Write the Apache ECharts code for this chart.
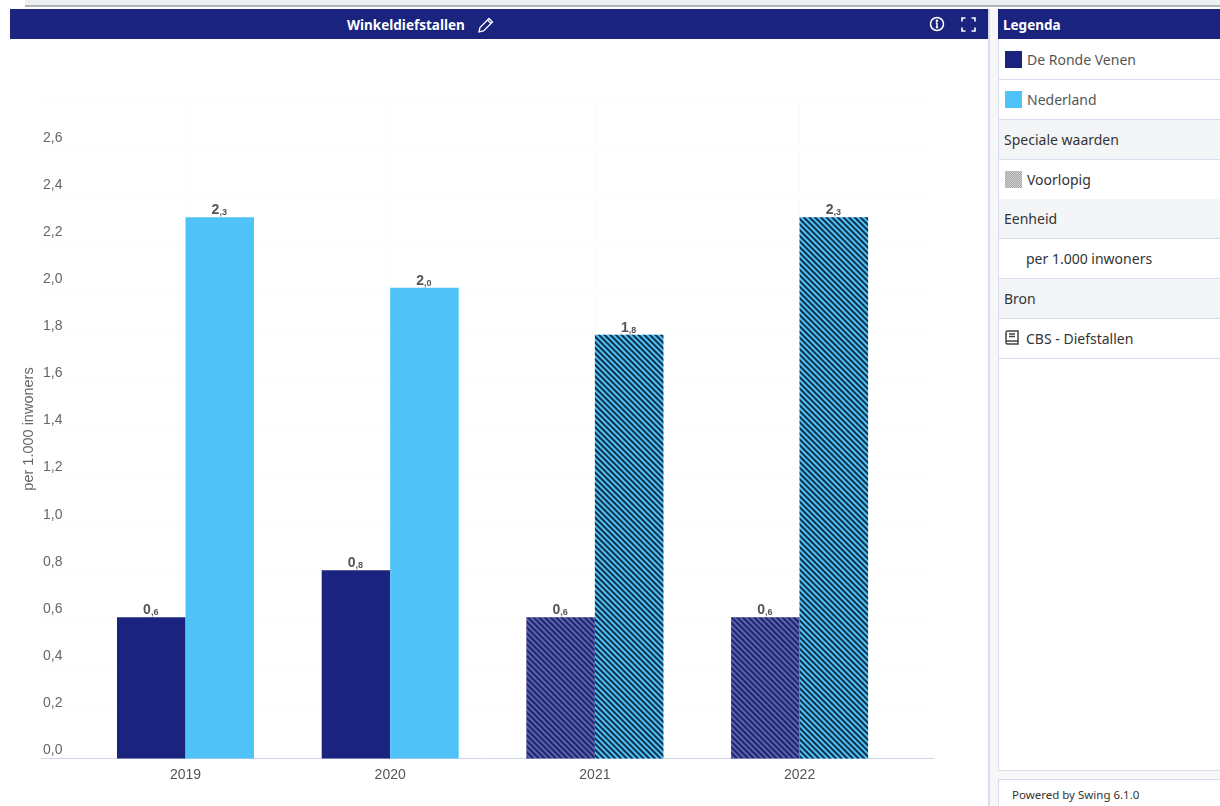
<!DOCTYPE html>
<html><head><meta charset="utf-8">
<script src="https://cdn.jsdelivr.net/npm/echarts@6/dist/echarts.min.js"></script>
<style>
html,body{margin:0;padding:0;width:1220px;height:806px;overflow:hidden;background:#fff;font-family:"Noto Sans",sans-serif;}
.abs{position:absolute;box-sizing:border-box;}
.row{position:absolute;left:999px;width:221px;border-bottom:1px solid #d8dcec;color:#555;font-size:14px;line-height:39px;padding-left:5px;white-space:nowrap;box-sizing:content-box;height:39px;}
.head{background:#f4f5f7;color:#333;}
.sw{position:absolute;left:6px;top:11px;width:17px;height:17px;}
.txt{position:absolute;left:28px;top:0;}
</style></head>
<body>
<div class="abs" style="left:25px;top:0;width:1195px;height:5px;background:#edf0f1;"></div>
<div class="abs" style="left:25px;top:5px;width:1195px;height:2px;background:#b4b4b8;"></div>
<div class="abs" style="left:10px;top:9px;width:978px;height:30px;background:#1a237e;"></div>
<div class="abs" style="left:347px;top:10px;height:30px;line-height:30px;color:#fff;font-weight:700;font-size:13.5px;white-space:nowrap;">Winkeldiefstallen</div>
<svg class="abs" style="left:477px;top:16px" width="18" height="18" viewBox="0 0 18 18" fill="none" stroke="#fff" stroke-width="1.3"><path d="M2 16l1-4.500L12 2.500l3.500 3.500-9 9z"/><path d="M10.500 4l3.500 3.500"/></svg>
<svg class="abs" style="left:929px;top:16px" width="16" height="16" viewBox="0 0 16 16" fill="none" stroke="#fff" stroke-width="1.500"><circle cx="8" cy="8" r="6.500"/><path d="M8 7v4.500M6.800 11.500h2.400M6.800 7H8" /><circle cx="8" cy="4.800" r=".6" fill="#fff"/></svg>
<svg class="abs" style="left:961px;top:17px" width="15" height="15" viewBox="0 0 15 15" fill="none" stroke="#fff" stroke-width="1.600"><path d="M1 4.500V1h3.500M10.500 1H14v3.500M14 10.500V14h-3.500M4.500 14H1v-3.500"/></svg>
<div class="abs" style="left:988px;top:9px;width:2px;height:797px;background:#d8dcec;"></div>
<div class="abs" style="left:990px;top:9px;width:8px;height:797px;background:#f8f7f7;"></div>
<div class="abs" style="left:998px;top:9px;width:222px;height:30px;background:#1a237e;color:#fff;font-weight:700;font-size:13.5px;line-height:32px;padding-left:5px;">Legenda</div>
<div class="abs" style="left:998px;top:39px;width:222px;height:732px;border:1px solid #d8dcec;border-right:0;border-top:0;"></div>
<div class="row" style="top:40px"><div class="sw" style="background:#1a237e"></div><div class="txt">De Ronde Venen</div></div>
<div class="row" style="top:80px"><div class="sw" style="background:#4fc3f7"></div><div class="txt">Nederland</div></div>
<div class="row head" style="top:120px">Speciale waarden</div>
<div class="row" style="top:160px;color:#333"><div class="sw" style="background:repeating-conic-gradient(#a8a8a8 0 25%,#cfcfcf 0 50%) 0 0/2px 2px"></div><div class="txt">Voorlopig</div></div>
<div class="row head" style="top:199px">Eenheid</div>
<div class="row" style="top:239px;color:#333;padding-left:27px">per 1.000 inwoners</div>
<div class="row head" style="top:279px">Bron</div>
<div class="row" style="top:319px;color:#333;padding-left:27px"><svg style="position:absolute;left:6px;top:11px" width="14" height="15" viewBox="0 0 14 15" fill="none" stroke="#444" stroke-width="1.500"><path d="M1 12V2.500Q1 1 2.500 1H13v13H2.500Q1 14 1 12.500Q1 11 2.500 11H13"/><path d="M4 4h6M4 6.500h6"/></svg>CBS - Diefstallen</div>
<div class="abs" style="left:998px;top:771px;width:222px;height:8px;background:#f8f7f7;"></div>
<div class="abs" style="left:998px;top:779px;width:222px;height:27px;border:1px solid #d8dcec;border-right:0;border-bottom:0;color:#333;font-size:11.5px;line-height:30px;padding-left:13px;">Powered by Swing 6.1.0</div>
<div id="chart" class="abs" style="left:0;top:40px;width:988px;height:766px;"></div>
<script>
const years = [2019, 2020, 2021, 2022];
const deRondeVenen = [0.6, 0.8, 0.6, 0.6];
const nederland = [2.3, 2.0, 1.8, 2.3];
const provisionalYears = [2021, 2022];
const yTicks = [0, 0.2, 0.4, 0.6, 0.8, 1.0, 1.2, 1.4, 1.6, 1.8, 2.0, 2.2, 2.4, 2.6];
const yTitle = 'per 1.000 inwoners';
const NAVY = '#1a237e', SKY = '#4fc3f7';

function stripes(color) {
  return { symbol: 'rect', symbolSize: 1, dashArrayX: [1, 0], dashArrayY: [1.5, 1.5], rotation: Math.PI / 4, color: color };
}
function points(values, color, stripeColor) {
  return values.map((v, i) => ({
    value: [years[i], v],
    itemStyle: {
      color: color,
      decal: provisionalYears.includes(years[i]) ? stripes(stripeColor) : null
    }
  }));
}
function lbl(p) {
  const s = p.value[1].toFixed(1).split('.');
  return '{a|' + s[0] + '}{b|,' + s[1] + '}';
}
function bar(name, values, color, stripeColor) {
  return {
    name: name, type: 'bar', barWidth: 68.5, barGap: '0%',
    data: points(values, color, stripeColor),
    label: { show: true, position: 'top', distance: 0, offset: [-0.5, 0], formatter: lbl,
      rich: { a: { fontFamily: 'Liberation Sans', fontWeight: 700, fontSize: 14, color: '#555' },
              b: { fontFamily: 'Liberation Sans', fontWeight: 700, fontSize: 9, color: '#555', verticalAlign: 'bottom' } } }
  };
}
const chart = echarts.init(document.getElementById('chart'), null, { renderer: 'canvas' });
chart.setOption({
  animation: false,
  aria: { enabled: false, decal: { show: false } },
  grid: { left: 41, right: 54, top: 59.5, bottom: 47.5, containLabel: false },
  xAxis: {
    type: 'value', min: 2018.2941, max: 2022.6566,
    axisLine: { show: true, lineStyle: { color: '#ccd6eb', width: 1 } },
    axisTick: { show: false, customValues: years },
    axisLabel: { customValues: years, formatter: v => String(v), color: '#555', fontSize: 14, fontFamily: 'Liberation Sans', margin: 10 },
    splitLine: { show: true, lineStyle: { color: '#fbfbfb' } }
  },
  yAxis: {
    type: 'value', min: 0, max: 2.8, interval: 0.2,
    name: yTitle, nameLocation: 'middle', nameGap: 5, nameMoveOverlap: false,
    nameTextStyle: { color: '#666', fontSize: 14.5, fontFamily: 'Liberation Sans' },
    axisLine: { show: false }, axisTick: { show: false },
    axisLabel: { inside: true, margin: 2, color: '#666', fontSize: 14, fontFamily: 'Liberation Sans', verticalAlign: 'bottom', lineHeight: 17,
      formatter: v => yTicks.some(t => Math.abs(t - v) < 1e-6) ? v.toFixed(1).replace('.', ',') : '' },
    splitLine: { show: true, lineStyle: { color: '#fbfbfb' } }
  },
  series: [
    bar('De Ronde Venen', deRondeVenen, NAVY, 'rgba(190,190,200,0.42)'),
    bar('Nederland', nederland, SKY, 'rgba(0,10,30,0.8)')
  ]
});
</script>
</body></html>
